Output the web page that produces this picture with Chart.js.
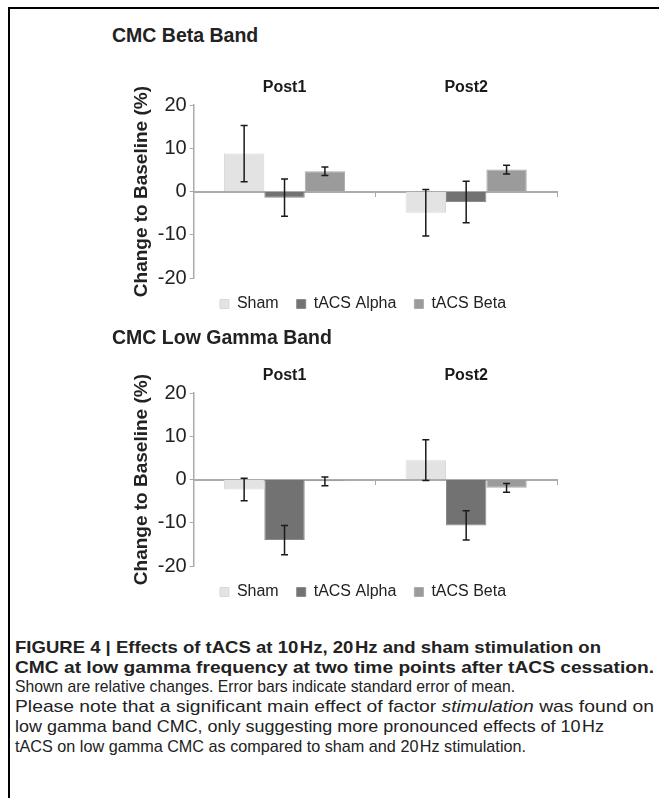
<!DOCTYPE html>
<html lang="en">
<head>
<meta charset="UTF-8" />
<title>CMC after tACS</title>
<script src="https://cdn.jsdelivr.net/npm/chart.js"></script>
<style>
  html, body {
    margin: 0;
    padding: 0;
    background: #fff;
    width: 659px;
    height: 798px;
    overflow: hidden;
    font-family: "Liberation Sans", Arial, sans-serif;
  }
  .frame {
    position: absolute;
    left: 8px; top: 7px; right: 0; bottom: 0;
    border-top: 2px solid #000;
    border-left: 2px solid #000;
  }
  .panel-title {
    position: absolute;
    left: 112px;
    font-weight: bold;
    font-size: 19.5px;
    color: #222;
  }
  .box {
    position: absolute;
    left: 130px;
    width: 466px;
    height: 257px;
  }
  .caption {
    position: absolute;
    left: 15px;
    top: 638px;
    font-size: 17px;
    line-height: 19.7px;
    color: #222;
  }
  .caption .line {
    white-space: nowrap;
    display: block;
    width: max-content;
    transform-origin: 0 50%;
  }
  .caption .strong { font-weight: bold; }
</style>
</head>
<body>
  <div class="frame"></div>

  <div class="panel-title" style="top:24px">CMC Beta Band</div>
  <div class="box" style="top:78px"><canvas id="beta"></canvas></div>

  <div class="panel-title" style="top:326px">CMC Low Gamma Band</div>
  <div class="box" style="top:366px"><canvas id="gamma"></canvas></div>

  <div class="caption">
    <span class="line strong" data-w="586">FIGURE 4 | Effects of tACS at 10&#8202;Hz, 20&#8202;Hz and sham stimulation on</span>
    <span class="line strong" data-w="639">CMC at low gamma frequency at two time points after tACS cessation.</span>
    <span class="line" data-w="500">Shown are relative changes. Error bars indicate standard error of mean.</span>
    <span class="line" data-w="639">Please note that a significant main effect of factor <i>stimulation</i> was found on</span>
    <span class="line" data-w="589">low gamma band CMC, only suggesting more pronounced effects of 10&#8202;Hz</span>
    <span class="line" data-w="511">tACS on low gamma CMC as compared to sham and 20&#8202;Hz stimulation.</span>
  </div>

  <script>
    const timePoints = ['Post1', 'Post2'];
    const seriesNames = ['Sham', 'tACS Alpha', 'tACS Beta'];
    const yTicks = [-20, -10, 0, 10, 20];

    // CMC beta band, change to baseline (%)
    const betaSham = [8.8, -4.9];
    const betaAlpha = [-1.4, -2.4];
    const betaBeta = [4.7, 5.1];
    const betaShamErr = [6.5, 5.4];
    const betaAlphaErr = [4.3, 4.8];
    const betaBetaErr = [1.0, 1.0];

    // CMC low gamma band, change to baseline (%)
    const gammaSham = [-2.3, 4.5];
    const gammaAlpha = [-14.0, -10.6];
    const gammaBeta = [-0.4, -1.9];
    const gammaShamErr = [2.6, 4.7];
    const gammaAlphaErr = [3.4, 3.4];
    const gammaBetaErr = [1.0, 1.0];

    const fills = ['#e3e3e3', '#727272', '#9b9b9b'];
    const edges = ['#d8d8d8', '#8a8a8a', '#ababab'];

    // whiskers drawn from each bar's value +/- its error
    const errorBars = {
      id: 'errorBars',
      afterDatasetsDraw(chart) {
        const ctx = chart.ctx;
        const y = chart.scales.y;
        chart.data.datasets.forEach((ds, i) => {
          chart.getDatasetMeta(i).data.forEach((bar, j) => {
            const hi = y.getPixelForValue(ds.data[j] + ds.errors[j]);
            const lo = y.getPixelForValue(ds.data[j] - ds.errors[j]);
            ctx.save();
            ctx.strokeStyle = '#1a1a1a';
            ctx.lineWidth = 1.5;
            ctx.beginPath();
            ctx.moveTo(bar.x, hi); ctx.lineTo(bar.x, lo);
            ctx.moveTo(bar.x - 3.5, hi); ctx.lineTo(bar.x + 3.5, hi);
            ctx.moveTo(bar.x - 3.5, lo); ctx.lineTo(bar.x + 3.5, lo);
            ctx.stroke();
            ctx.restore();
          });
        });
      }
    };

    function makeChart(id, values, errors) {
      return new Chart(document.getElementById(id), {
        type: 'bar',
        data: {
          labels: timePoints,
          datasets: seriesNames.map((name, i) => ({
            label: name,
            data: values[i],
            errors: errors[i],
            backgroundColor: fills[i],
            borderColor: edges[i],
            borderWidth: 1,
            barPercentage: 1.0,
            categoryPercentage: 0.667
          }))
        },
        options: {
          responsive: true,
          maintainAspectRatio: false,
          animation: false,
          layout: { padding: { top: 0, bottom: 13, left: 0, right: 0 } },
          scales: {
            x: {
              position: { y: 0 },
              offset: true,
              z: 1,
              ticks: { display: false },
              grid: { offset: true, drawOnChartArea: false, tickLength: 4, color: '#a8a8a8' },
              border: { color: '#ababab', width: 2 }
            },
            top: {
              type: 'category',
              axis: 'x',
              position: 'top',
              labels: timePoints,
              offset: true,
              grid: { display: false },
              border: { display: false },
              ticks: { padding: 0, color: '#1a1a1a', font: { size: 16, weight: 'bold' } }
            },
            y: {
              min: -20,
              max: 20,
              afterBuildTicks: (s) => { s.ticks = yTicks.map(v => ({ value: v })); },
              grid: { drawOnChartArea: false, tickLength: 4, color: '#a8a8a8' },
              border: { color: '#ababab', width: 1.5 },
              ticks: { padding: 3, color: '#222', font: { size: 20 } },
              title: {
                display: true,
                text: 'Change to Baseline (%)',
                color: '#222',
                font: { size: 19, weight: 'bold' },
                padding: { top: 0, bottom: 2 }
              }
            },
            // empty right-hand gutter so the legend sits where the original has it
            gutter: {
              type: 'linear',
              position: 'right',
              grid: { display: false },
              border: { display: false },
              ticks: { display: false },
              afterFit: (s) => { s.width = 39; }
            }
          },
          plugins: {
            legend: {
              position: 'bottom',
              labels: {
                boxWidth: 9,
                boxHeight: 9,
                padding: 18,
                color: '#222',
                font: { size: 16 }
              }
            },
            tooltip: { enabled: false }
          }
        },
        plugins: [errorBars]
      });
    }

    Chart.defaults.font.family = '"Liberation Sans", Arial, sans-serif';

    makeChart('beta', [betaSham, betaAlpha, betaBeta], [betaShamErr, betaAlphaErr, betaBetaErr]);
    makeChart('gamma', [gammaSham, gammaAlpha, gammaBeta], [gammaShamErr, gammaAlphaErr, gammaBetaErr]);

    // squeeze each caption line to the width it has in the printed figure
    document.querySelectorAll('.caption .line').forEach(el => {
      const w = el.getBoundingClientRect().width;
      el.style.transform = 'scaleX(' + (Number(el.dataset.w) / w).toFixed(4) + ')';
    });
  </script>
</body>
</html>
